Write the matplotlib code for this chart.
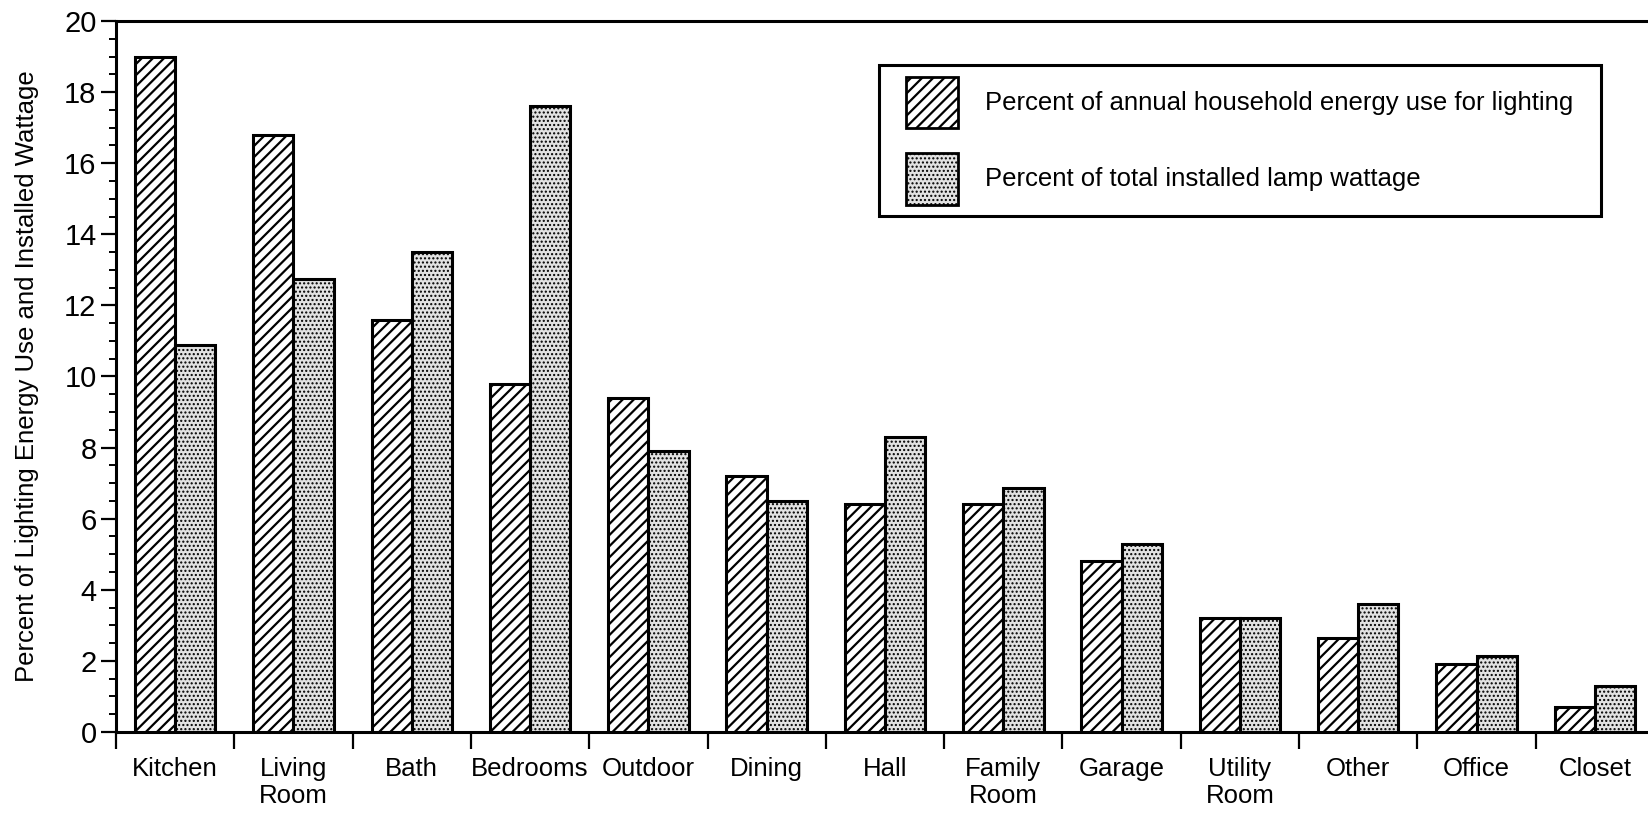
import numpy as np
import matplotlib
matplotlib.use("Agg")
import matplotlib.pyplot as plt
from matplotlib.patches import Patch
from matplotlib.legend_handler import HandlerPatch
from matplotlib.ticker import MultipleLocator, FixedLocator

plt.rcParams["font.family"] = ["Liberation Sans", "DejaVu Sans"]
plt.rcParams["hatch.linewidth"] = 1.6

rooms = ["Kitchen", "Living\nRoom", "Bath", "Bedrooms", "Outdoor", "Dining", "Hall",
         "Family\nRoom", "Garage", "Utility\nRoom", "Other", "Office", "Closet"]
energy_use = [19.0, 16.8, 11.6, 9.8, 9.4, 7.2, 6.4, 6.4, 4.8, 3.2, 2.65, 1.9, 0.7]
lamp_wattage = [10.9, 12.75, 13.5, 17.6, 7.9, 6.5, 8.3, 6.85, 5.3, 3.2, 3.6, 2.15, 1.3]
labels = ["Percent of annual household energy use for lighting",
          "Percent of total installed lamp wattage"]

DOT_LW = 1.0


def thin_dots(p):
    # dots get fat with the thick hatch linewidth
    if hasattr(p, "set_hatch_linewidth"):
        p.set_hatch_linewidth(DOT_LW)


fig = plt.figure(figsize=(16.48, 8.14), dpi=100)
ax = fig.add_axes([116/1648, 1 - 732/814, 1538/1648, (732-21)/814])

x = np.arange(len(rooms))
w = 0.34
dot_face = "#e2e2e2"
dot_hatch = "...."
line_hatch = "///"
ax.bar(x - w/2, energy_use, width=w, facecolor="white", edgecolor="black",
       hatch=line_hatch, linewidth=2.2, zorder=3)
dots = ax.bar(x + w/2, lamp_wattage, width=w, facecolor=dot_face, edgecolor="black",
              hatch=dot_hatch, linewidth=2.2, zorder=3)
for p in dots:
    thin_dots(p)

ax.set_xlim(-0.5, len(rooms) - 0.5)
ax.set_ylim(0, 20)

ax.yaxis.set_major_locator(MultipleLocator(2))
ax.yaxis.set_minor_locator(MultipleLocator(0.5))
ax.tick_params(axis="y", which="major", length=11, width=1.6, labelsize=21, pad=3)
ax.tick_params(axis="y", which="minor", length=5, width=1.4)

ax.set_xticks(x)
ax.set_xticklabels(rooms, fontsize=18.5, linespacing=1.15)
ax.xaxis.set_minor_locator(FixedLocator(np.arange(-0.5, len(rooms), 1.0)))
ax.tick_params(axis="x", which="major", length=0, pad=18)
ax.tick_params(axis="x", which="minor", length=12, width=1.6)

for s in ["left", "bottom", "top"]:
    ax.spines[s].set_linewidth(2.2)
ax.spines["right"].set_visible(False)

ax.set_ylabel("Percent of Lighting Energy Use and Installed Wattage", fontsize=18.5, labelpad=18)

h_dot = Patch(facecolor=dot_face, edgecolor="black", hatch=dot_hatch, linewidth=2.0)
thin_dots(h_dot)
handles = [Patch(facecolor="white", edgecolor="black", hatch=line_hatch, linewidth=2.0),
           h_dot]
leg = fig.legend(handles, labels, loc="upper left",
                 bbox_to_anchor=(879/1648, 1 - 65/814, (1601-879)/1648, 0.0),
                 mode="expand", borderaxespad=0, fontsize=18.5,
                 handlelength=2.62, handleheight=2.73,
                 handler_map={Patch: HandlerPatch(xpad=0.6)},
                 labelspacing=0.95, borderpad=0.45, handletextpad=1.05,
                 fancybox=False, framealpha=1, edgecolor="black")
leg.get_frame().set_linewidth(2.2)
thin_dots(leg.get_patches()[1])

fig.savefig("out.png", dpi=100)
